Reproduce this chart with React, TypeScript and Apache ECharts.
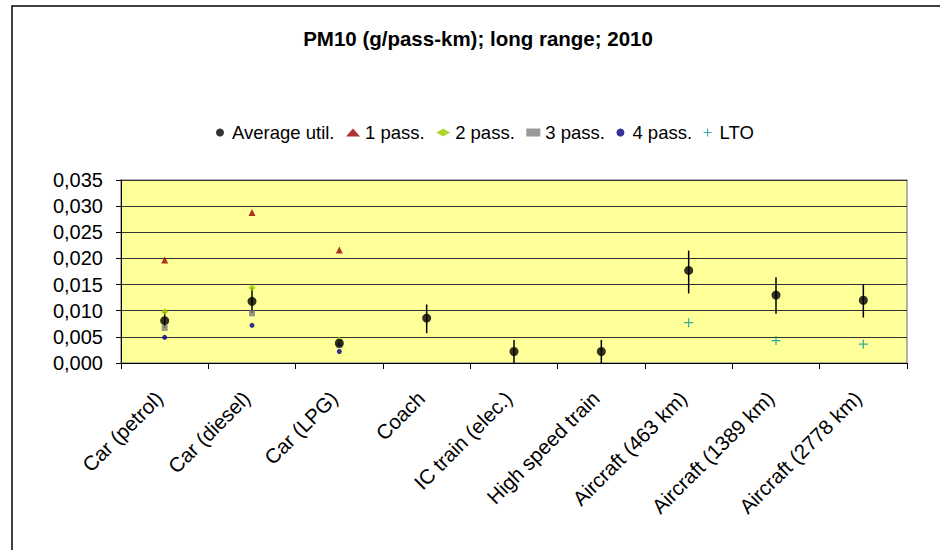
import React, { useEffect, useRef } from "react";
import * as echarts from "echarts";

const categories = [
  "Car (petrol)",
  "Car (diesel)",
  "Car (LPG)",
  "Coach",
  "IC train (elec.)",
  "High speed train",
  "Aircraft (463 km)",
  "Aircraft (1389 km)",
  "Aircraft (2778 km)",
];

const averageUtil = [0.0081, 0.0118, 0.0038, 0.0086, 0.0022, 0.0022, 0.0177, 0.013, 0.012];
const errLow = [0.0067, 0.0095, 0.0034, 0.0057, 0.0, 0.0, 0.0133, 0.0094, 0.0087];
const errHigh = [0.0098, 0.0144, 0.0044, 0.0112, 0.0044, 0.0044, 0.0215, 0.0164, 0.0151];
const pass1 = [0.0197, 0.0288, 0.0216, null, null, null, null, null, null];
const pass2 = [0.0098, 0.0144, 0.0044, null, null, null, null, null, null];
const pass3 = [0.0067, 0.0095, 0.0034, null, null, null, null, null, null];
const pass4 = [0.0049, 0.0072, 0.0022, null, null, null, null, null, null];
const lto = [null, null, null, null, null, null, 0.0077, 0.0043, 0.0036];

const FONT = "Liberation Sans, Arial, sans-serif";
const PLUS = "path://M4.3,0H5.7V4.3H10V5.7H5.7V10H4.3V5.7H0V4.3H4.3Z";

export default function App() {
  const ref = useRef<HTMLDivElement>(null);
  useEffect(() => {
    if (!ref.current) return;
    const chart = echarts.init(ref.current, null, { renderer: "svg" });
    const sc = (name: string, data: any[], symbol: string, size: number, color: string) => ({
      name,
      type: "scatter",
      data,
      symbol,
      symbolSize: size,
      itemStyle: { color },
      z: 3,
    });
    chart.setOption({
      animation: false,
      textStyle: { fontFamily: FONT },
      graphic: [
        {
          type: "rect",
          shape: { x: 12, y: 6, width: 1000, height: 1000 },
          style: { fill: "none", stroke: "#000", lineWidth: 1.5 },
          z: 0,
        },
        {
          type: "text",
          x: 478,
          y: 38,
          style: {
            text: "PM10 (g/pass-km); long range; 2010",
            fontFamily: FONT,
            fontSize: 20.5,
            fontWeight: "bold",
            fill: "#000",
            textAlign: "center",
            textVerticalAlign: "middle",
          },
        },
      ],
      legend: {
        left: 211,
        top: 118,
        itemWidth: 14,
        itemHeight: 8,
        itemGap: 11.5,
        textStyle: { fontSize: 18.5, color: "#000", fontFamily: FONT },
        data: [
          { name: "Average util.", icon: "circle" },
          { name: "1 pass.", icon: "triangle" },
          { name: "2 pass.", icon: "diamond" },
          { name: "3 pass.", icon: "rect" },
          { name: "4 pass.", icon: "circle" },
          { name: "LTO", icon: PLUS },
        ],
      },
      grid: {
        left: 121,
        top: 180,
        right: 33,
        bottom: 187,
        show: true,
        backgroundColor: "#FFFF99",
        borderColor: "#999",
        borderWidth: 1.5,
      },
      xAxis: {
        type: "category",
        data: categories,
        boundaryGap: true,
        axisLine: { lineStyle: { color: "#000", width: 1 } },
        axisTick: { show: true, length: 6, alignWithLabel: false, lineStyle: { color: "#000" } },
        axisLabel: {
          rotate: 45,
          fontSize: 20.5,
          color: "#000",
          fontFamily: FONT,
          margin: 26,
          padding: [0, 8, 0, 0],
          interval: 0,
        },
        splitLine: { show: false },
      },
      yAxis: {
        type: "value",
        min: 0,
        max: 0.035,
        interval: 0.005,
        axisLine: { show: true, lineStyle: { color: "#000", width: 1 } },
        axisTick: { show: true, length: 5, lineStyle: { color: "#000" } },
        axisLabel: {
          fontSize: 20,
          color: "#000",
          fontFamily: FONT,
          margin: 18,
          formatter: (v: number) => v.toFixed(3).replace(".", ","),
        },
        splitLine: { show: true, lineStyle: { color: "#333", width: 1 } },
      },
      series: [
        {
          name: "errorbar",
          type: "custom",
          z: 2,
          data: categories.map((_, i) => [i, errLow[i], errHigh[i]]),
          renderItem: (params: any, api: any) => {
            const x = api.value(0);
            const lo = api.coord([x, api.value(1)]);
            const hi = api.coord([x, api.value(2)]);
            return {
              type: "line",
              shape: { x1: lo[0], y1: lo[1], x2: hi[0], y2: hi[1] },
              style: { stroke: "#000", lineWidth: 1.5 },
            };
          },
          tooltip: { show: false },
        },
        sc("1 pass.", pass1, "triangle", 7, "#990000"),
        sc("2 pass.", pass2, "diamond", 7, "#99CC00"),
        sc("3 pass.", pass3, "rect", 6, "#808080"),
        sc("4 pass.", pass4, "circle", 5, "#000080"),
        sc("LTO", lto, PLUS, 9, "#009999"),
        { ...sc("Average util.", averageUtil, "circle", 9, "#000"), z: 4 },
      ],
    });
    return () => chart.dispose();
  }, []);
  return (
    <div
      ref={ref}
      style={{ position: "absolute", left: 0, top: 0, width: 940, height: 550, background: "#fff" }}
    />
  );
}
